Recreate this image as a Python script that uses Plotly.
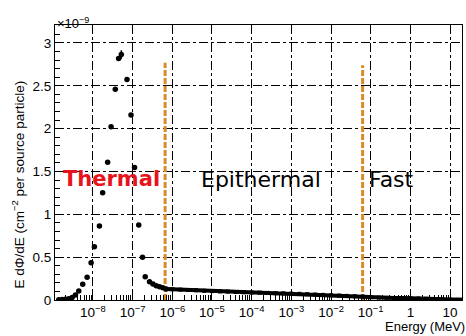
import plotly.graph_objects as go

# Thermal-peak bins (energy in MeV, flux in units of 1e-9 per source particle)
energy_coarse = [1.38e-9, 1.68e-9, 2.04e-9, 2.47e-9, 3.0e-9, 3.63e-9, 4.4e-9, 5.54e-9,
                 7.15e-9, 9.0e-9, 1.09e-8, 1.46e-8, 1.76e-8, 2.35e-8, 2.87e-8, 3.67e-8,
                 4.44e-8, 5.2e-8, 7.23e-8, 9.12e-8, 1.12e-7, 1.43e-7, 1.78e-7, 2.08e-7,
                 2.67e-7, 3.26e-7, 3.94e-7, 4.77e-7, 5.8e-7, 7.0e-7]
flux_coarse = [0.003, 0.005, 0.01, 0.015, 0.03, 0.058, 0.105, 0.183,
               0.265, 0.435, 0.622, 0.863, 1.252, 1.607, 2.022, 2.459,
               2.82, 2.865, 2.575, 2.159, 1.548, 0.875, 0.498, 0.272,
               0.214, 0.187, 0.167, 0.155, 0.144, 0.128]
flux_coarse_err = [0.0] * 17 + [0.05] + [0.0] * 12

# Epithermal and fast region (dense bins)
energy_fine = [7.0e-7, 1.0e-6, 1.6e-6, 2.5e-6, 4.0e-6, 6.3e-6, 1.0e-5, 1.6e-5, 2.5e-5,
               4.0e-5, 6.3e-5, 1.0e-4, 1.6e-4, 2.5e-4, 4.0e-4, 6.3e-4, 1.0e-3,
               1.6e-3, 2.5e-3, 4.0e-3, 6.3e-3, 1.0e-2, 1.6e-2, 2.5e-2, 4.0e-2,
               6.3e-2, 1.0e-1, 1.6e-1, 2.5e-1, 4.0e-1, 6.3e-1, 1.0, 1.6, 2.5,
               4.0, 6.3, 10.0, 16.0, 20.0]
flux_fine = [0.128, 0.125, 0.121, 0.117, 0.114, 0.108, 0.104, 0.100, 0.098,
             0.093, 0.090, 0.087, 0.086, 0.083, 0.080, 0.078, 0.075,
             0.072, 0.068, 0.064, 0.060, 0.056, 0.052, 0.048, 0.044,
             0.040, 0.032, 0.028, 0.025, 0.023, 0.022, 0.020, 0.018, 0.015,
             0.006, 0.004, 0.003, 0.002, 0.002]

# Region boundaries (MeV) and marker heights
boundary_energy = [6.6e-7, 0.0625]
boundary_top = [2.77, 2.74]

tick_vals = [1e-8, 1e-7, 1e-6, 1e-5, 1e-4, 1e-3, 1e-2, 1e-1, 1, 10]
tick_text = ["10<sup>−8</sup>", "10<sup>−7</sup>", "10<sup>−6</sup>", "10<sup>−5</sup>",
             "10<sup>−4</sup>", "10<sup>−3</sup>", "10<sup>−2</sup>", "10<sup>−1</sup>",
             "1", "10"]

fig = go.Figure()

for e, top in zip(boundary_energy, boundary_top):
    fig.add_trace(go.Scatter(x=[e, e], y=[0, top], mode="lines",
                             line=dict(color="#DE8A22", width=3, dash="6px,2px"),
                             showlegend=False, hoverinfo="skip"))

fig.add_trace(go.Scatter(x=energy_fine, y=flux_fine, mode="lines+markers",
                         line=dict(color="black", width=4),
                         marker=dict(color="black", size=4, symbol="square"),
                         showlegend=False))

fig.add_trace(go.Scatter(x=energy_coarse, y=flux_coarse, mode="markers",
                         marker=dict(color="black", size=5.5),
                         error_y=dict(type="data", array=flux_coarse_err, color="black",
                                      thickness=1.5, width=0),
                         showlegend=False))

axis_font = dict(family="Liberation Sans, Arial, sans-serif", size=13, color="black")
tick_font = dict(family="Liberation Sans, Arial, sans-serif", size=13.5, color="black")

fig.update_xaxes(type="log", range=[-8.955, 1.30],
                 tickvals=tick_vals, ticktext=tick_text, tickfont=tick_font,
                 ticks="inside", ticklen=9, tickcolor="black",
                 minor=dict(ticks="inside", ticklen=5, dtick="D1", tickcolor="black",
                            showgrid=False),
                 showline=True, linecolor="black", linewidth=1, mirror=True,
                 showgrid=True, gridcolor="black", gridwidth=1, griddash="dashdot",
                 zeroline=False)
fig.update_yaxes(range=[0, 3.21], dtick=0.5, tickfont=tick_font,
                 ticks="inside", ticklen=9, tickcolor="black",
                 minor=dict(ticks="inside", ticklen=5, dtick=0.1, tickcolor="black",
                            showgrid=False),
                 showline=True, linecolor="black", linewidth=1, mirror=True,
                 showgrid=True, gridcolor="black", gridwidth=1, griddash="dashdot",
                 zeroline=False)

text_font = "DejaVu Sans, Verdana, sans-serif"
annotations = [
    dict(text="<b>Thermal</b>", x=0.139, y=0.44, xref="paper", yref="paper",
         xanchor="center", yanchor="middle",
         showarrow=False, font=dict(family=text_font, size=21, color="#E8141C")),
    dict(text="Epithermal", x=0.505, y=0.44, xref="paper", yref="paper",
         xanchor="center", yanchor="middle",
         showarrow=False, font=dict(family=text_font, size=22, color="black")),
    dict(text="Fast", x=0.828, y=0.44, xref="paper", yref="paper",
         xanchor="center", yanchor="middle",
         showarrow=False, font=dict(family=text_font, size=22, color="black")),
    dict(text="Energy (MeV)", x=1.01, y=-0.127, xref="paper", yref="paper",
         xanchor="right", yanchor="bottom", borderpad=0,
         showarrow=False, font=axis_font),
    dict(text="×10<sup>−9</sup>", x=0.0, y=1.0, xref="paper", yref="paper",
         xanchor="left", yanchor="bottom", yshift=-8, showarrow=False,
         font=dict(family="Liberation Sans, Arial, sans-serif", size=13, color="black")),
    dict(text="E dΦ/dE (cm<sup>−2</sup> per source particle)", x=-0.091, y=0.42,
         xref="paper", yref="paper", xanchor="center", yanchor="middle",
         textangle=-90, showarrow=False,
         font=dict(family="Liberation Sans, Arial, sans-serif", size=13.5, color="black")),
]

fig.update_layout(width=466, height=336,
                  margin=dict(l=55, r=4, t=25, b=36),
                  paper_bgcolor="white", plot_bgcolor="white",
                  annotations=annotations, showlegend=False)

fig.write_html("out.html")
